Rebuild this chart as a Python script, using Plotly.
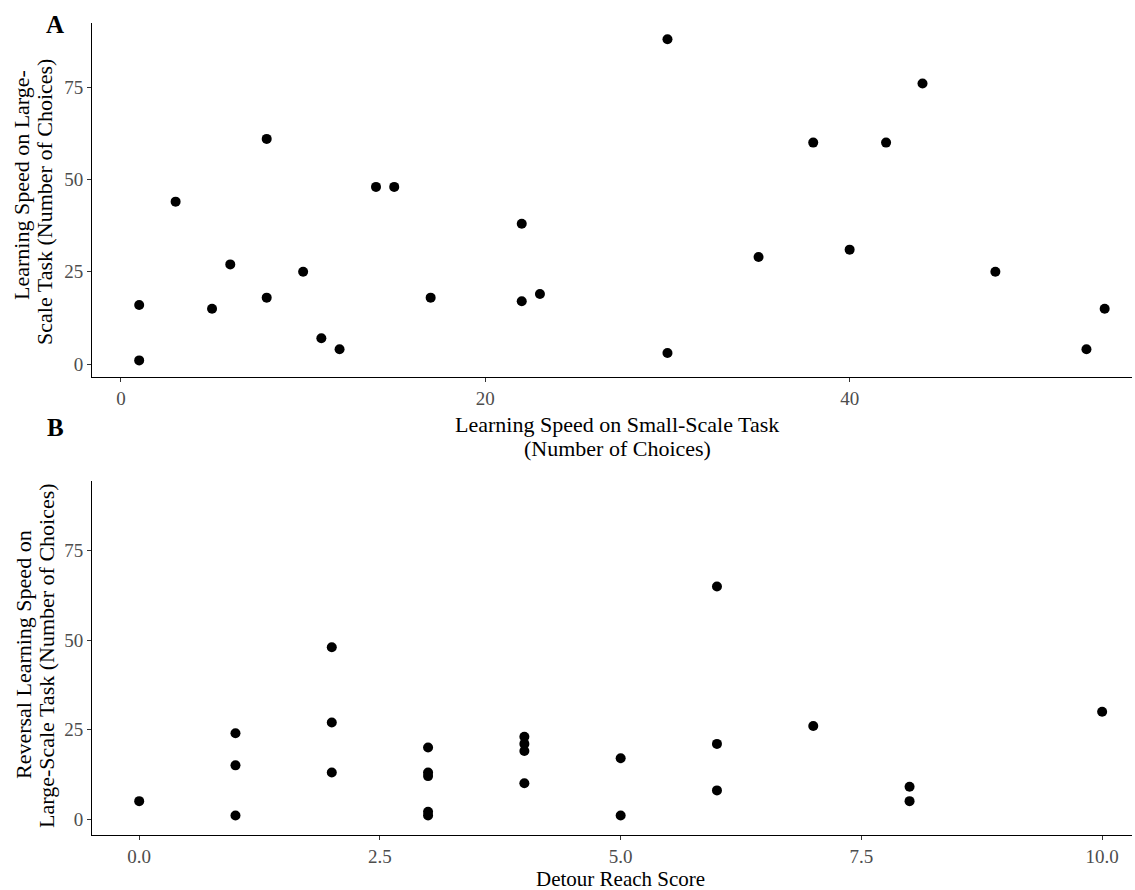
import plotly.graph_objects as go

# Panel A data
small_scale = [1, 1, 3, 5, 6, 8, 8, 10, 11, 12, 14, 15, 17, 22, 22, 23, 30, 30, 35, 38, 40, 42, 44, 48, 53, 54]
large_scale = [16, 1, 44, 15, 27, 61, 18, 25, 7, 4, 48, 48, 18, 38, 17, 19, 88, 3, 29, 60, 31, 60, 76, 25, 4, 15]

# Panel B data
detour = [0, 1, 1, 1, 2, 2, 2, 3, 3, 3, 3, 3, 4, 4, 4, 4, 5, 5, 6, 6, 6, 7, 8, 8, 10]
reversal = [5, 24, 15, 1, 48, 27, 13, 20, 13, 12, 2, 1, 23, 21, 19, 10, 17, 1, 65, 21, 8, 26, 9, 5, 30]

xticks_a = [0, 20, 40]
yticks = [0, 25, 50, 75]
xticks_b = [0, 2.5, 5, 7.5, 10]
xticks_b_text = ["0.0", "2.5", "5.0", "7.5", "10.0"]

W, H = 1135, 890
FONT = "Liberation Serif"

def px_x(p):
    return p / W

def px_y(p):
    return 1 - p / H

fig = go.Figure()
fig.add_trace(go.Scatter(x=small_scale, y=large_scale, mode="markers",
                         marker=dict(color="black", size=10), xaxis="x", yaxis="y",
                         showlegend=False))
fig.add_trace(go.Scatter(x=detour, y=reversal, mode="markers",
                         marker=dict(color="black", size=10), xaxis="x2", yaxis="y2",
                         showlegend=False))

axis_common = dict(showline=True, linecolor="black", linewidth=1, ticks="outside",
                   ticklen=4, tickcolor="#333333", tickwidth=1, showgrid=False,
                   zeroline=False, tickfont=dict(family=FONT, size=19, color="#4D4D4D"))

fig.update_layout(
    width=W, height=H, margin=dict(l=0, r=0, t=0, b=0),
    plot_bgcolor="white", paper_bgcolor="white",
    font=dict(family=FONT, color="black"),
    xaxis=dict(domain=[px_x(92), px_x(1132)], range=[-1.59, 55.5], anchor="y",
               tickvals=xticks_a, **axis_common),
    yaxis=dict(domain=[px_y(377), px_y(23)], range=[-3.5, 92.4], anchor="x",
               tickvals=yticks, **axis_common),
    xaxis2=dict(domain=[px_x(92), px_x(1132)], range=[-0.49, 10.31], anchor="y2",
                tickvals=xticks_b, ticktext=xticks_b_text, **axis_common),
    yaxis2=dict(domain=[px_y(835), px_y(481)], range=[-4.47, 94.5], anchor="x2",
                tickvals=yticks, **axis_common),
)

TS = 22
ann = [
    dict(text="<b>A</b>", x=px_x(55), y=px_y(25), font=dict(size=25)),
    dict(text="<b>B</b>", x=px_x(55), y=px_y(427), font=dict(size=25)),
    dict(text="Learning Speed on Small-Scale Task", x=px_x(617), y=px_y(425), font=dict(size=TS)),
    dict(text="(Number of Choices)", x=px_x(617), y=px_y(448), font=dict(size=TS)),
    dict(text="Detour Reach Score", x=px_x(620), y=px_y(879), font=dict(size=21)),
    dict(text="Learning Speed on Large-", x=px_x(22), y=px_y(185), textangle=-90, font=dict(size=TS)),
    dict(text="Scale Task (Number of Choices)", x=px_x(45), y=px_y(202), textangle=-90, font=dict(size=TS)),
    dict(text="Reversal Learning Speed on", x=px_x(23), y=px_y(655), textangle=-90, font=dict(size=TS)),
    dict(text="Large-Scale Task (Number of Choices)", x=px_x(46), y=px_y(656), textangle=-90, font=dict(size=TS)),
]
for a in ann:
    a.update(xref="paper", yref="paper", showarrow=False, xanchor="center", yanchor="middle")
    a["font"].update(family=FONT, color="black")
fig.update_layout(annotations=ann)

fig.write_html("out.html", config={"displayModeBar": False},
               post_script="document.body.style.margin='0';document.body.style.overflow='hidden';")
